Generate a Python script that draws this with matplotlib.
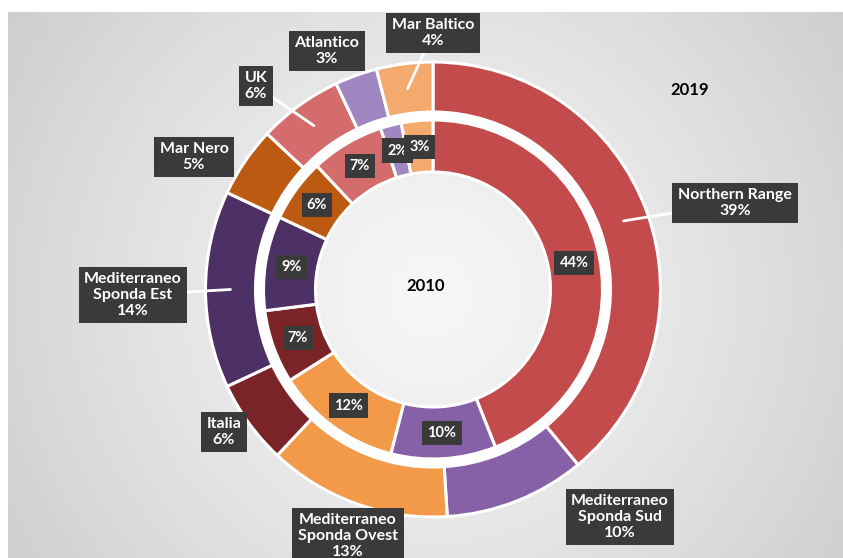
import numpy as np
import matplotlib.pyplot as plt
from matplotlib.patches import Wedge

plt.rcParams['font.family'] = ['Lato', 'DejaVu Sans']

regions = ['Northern Range', 'Mediterraneo\nSponda Sud', 'Mediterraneo\nSponda Ovest', 'Italia',
           'Mediterraneo\nSponda Est', 'Mar Nero', 'UK', 'Atlantico', 'Mar Baltico']
share_2019 = [39, 10, 13, 6, 14, 5, 6, 3, 4]
share_2010 = [44, 10, 12, 7, 9, 6, 7, 2, 3]
colors = ['#c44b4b', '#8661a8', '#f3994a', '#7a2427', '#4d3066',
          '#bd5a12', '#d46c6b', '#a087c2', '#f4aa6c']

# callout box centres, in pixels from the top-left of the picture
label_pos = [(735, 203), (620, 517), (348, 536), (224, 432), (133, 295),
             (194, 157), (256, 86), (327, 51), (433, 33)]
has_leader = [True, False, False, False, True, False, True, False, True]

W, H = 843, 558
fig = plt.figure(figsize=(W / 100, H / 100), dpi=100)
ax = fig.add_axes([0, 0, 1, 1])

# grey radial backdrop with a thin white margin top and left
yy, xx = np.mgrid[0:546, 8:W]
d = np.hypot(xx - 430, (yy + 12) - 295)
shade = 0.965 - 0.16 * (d / d.max()) ** 1.2
ax.imshow(shade, cmap='gray', vmin=0, vmax=1, extent=(8, W, 0, H - 12),
          origin='upper', zorder=0, interpolation='bilinear')

cx, cy = 433, H - 289.5
r_out, w_out = 227.5, 50
r_in, w_in = 169.5, 52

# white band between the two rings
ax.add_patch(Wedge((cx, cy), r_out - w_out + 1, 0, 360, width=r_out - w_out - r_in + 2,
                   fc='white', ec='none', zorder=0.5))

ax.pie(share_2019, radius=r_out, center=(cx, cy), colors=colors, startangle=90,
       counterclock=False, wedgeprops=dict(width=w_out, edgecolor='white', linewidth=2.2))
ax.pie(share_2010, radius=r_in, center=(cx, cy), colors=colors, startangle=90,
       counterclock=False, wedgeprops=dict(width=w_in, edgecolor='white', linewidth=2.2))

box = dict(boxstyle='square,pad=0.35', fc='#3a3a3a', ec='none')


def mid_angles(vals):
    c = np.cumsum([0] + list(vals[:-1]))
    return np.radians(90 - 360 * (c + np.array(vals) / 2) / 100)


# outer ring callouts
for name, v, a, (lx, ly), lead in zip(regions, share_2019, mid_angles(share_2019), label_pos, has_leader):
    rr = r_out - w_out / 2
    px, py = cx + rr * np.cos(a), cy + rr * np.sin(a)
    arrow = dict(arrowstyle='-', color='white', lw=2, shrinkA=0, shrinkB=0) if lead else None
    ax.annotate(f'{name}\n{v}%', xy=(px, py), xytext=(lx, H - ly), ha='center', va='center',
                color='white', fontsize=11.5, fontweight='bold', linespacing=1.15,
                bbox=box, arrowprops=arrow, zorder=5)

# inner ring labels
for v, a in zip(share_2010, mid_angles(share_2010)):
    rr = r_in - w_in / 2
    ax.text(cx + rr * np.cos(a), cy + rr * np.sin(a), f'{v}%', ha='center', va='center',
            color='white', fontsize=10.5, fontweight='bold', bbox=box, zorder=5)

ax.text(690, H - 90, '2019', ha='center', va='center', fontsize=12, fontweight='bold', color='black')
ax.text(426, H - 286, '2010', ha='center', va='center', fontsize=12, fontweight='bold', color='black')

ax.set_xlim(0, W)
ax.set_ylim(0, H)
ax.axis('off')
fig.savefig('out.png', dpi=100, facecolor='white')
